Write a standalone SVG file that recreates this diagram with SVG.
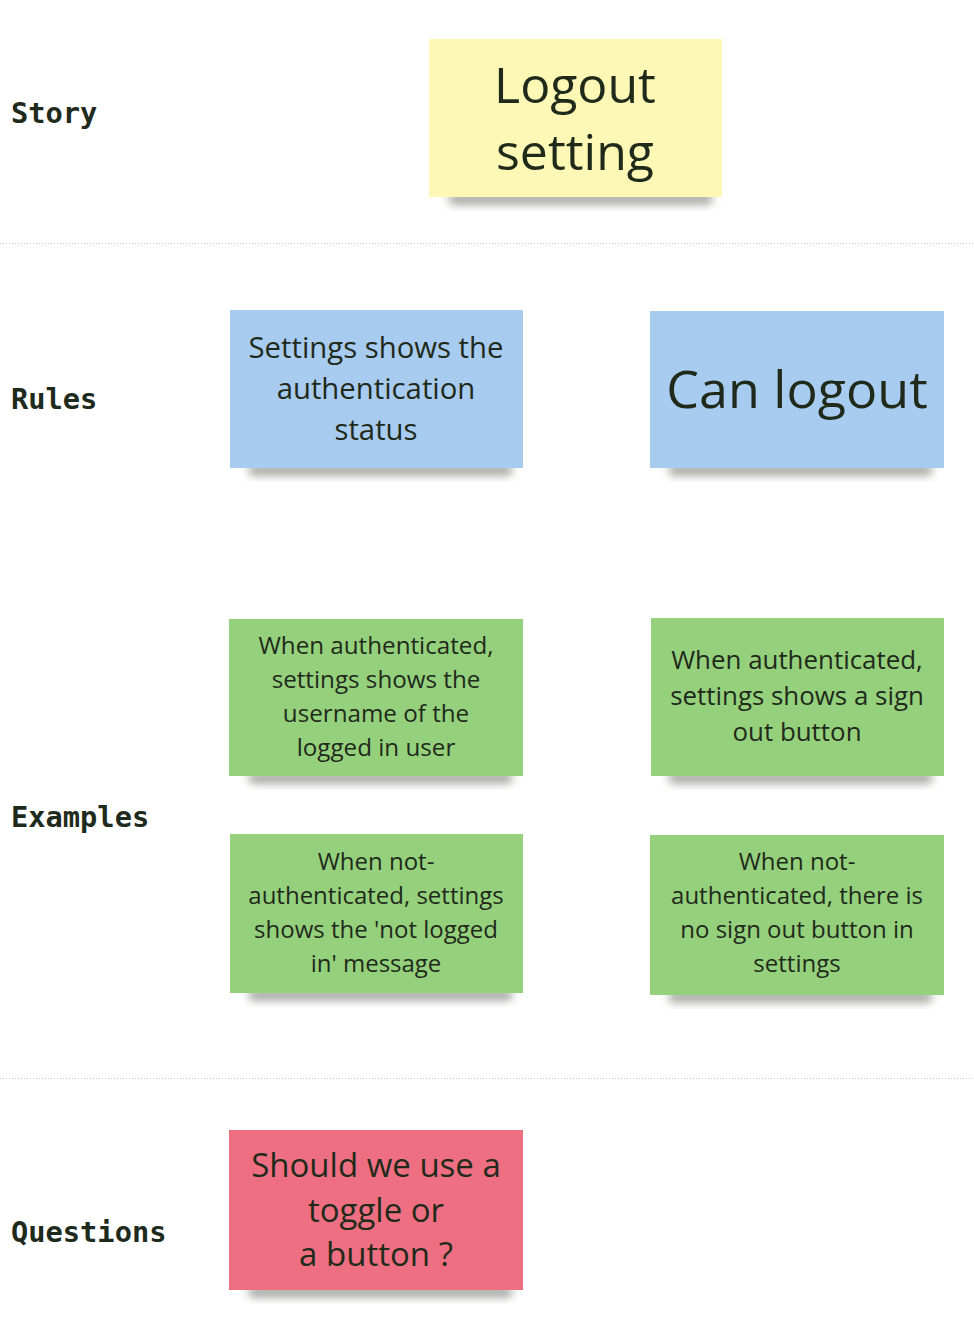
<svg xmlns="http://www.w3.org/2000/svg" width="974" height="1334" viewBox="0 0 974 1334">
<style>
.lbl{font-family:"DejaVu Sans Mono","Liberation Mono",monospace;font-weight:bold;font-size:28.7px;fill:#1e2a1c}
.t{font-family:"Open Sans","Noto Sans",sans-serif;fill:#1f2a1a;text-anchor:middle}
.div{stroke:#c8c8c8;stroke-width:1;stroke-dasharray:1 2}
.sh{fill:#5a5a50;opacity:0.5;filter:url(#blur)}
.yel{fill:#fdf8b5}
.blu{fill:#a8cbf0}
.grn{fill:#95d07d}
.red{fill:#ee6f82}
</style>
<defs>
<filter id="blur" x="-10%" y="-50%" width="120%" height="200%"><feGaussianBlur stdDeviation="4"/></filter>
</defs>
<rect width="974" height="1334" fill="#ffffff"/>
<g id="dividers">
<line class="div" x1="0" y1="243.5" x2="974" y2="243.5"/>
<line class="div" x1="0" y1="1078.5" x2="974" y2="1078.5"/>
</g>
<g id="labels">
<text class="lbl" x="11" y="123">Story</text>
<text class="lbl" x="11" y="409">Rules</text>
<text class="lbl" x="11" y="827">Examples</text>
<text class="lbl" x="11" y="1242">Questions</text>
</g>
<g id="story">
<rect class="sh" x="448" y="193" width="265" height="12" rx="6"/>
<rect class="yel" x="429" y="39" width="293" height="158"/>
<text class="t" font-size="50" x="575" y="103">Logout</text>
<text class="t" font-size="50" x="575" y="170">setting</text>
</g>
<g id="rule1">
<rect class="sh" x="248" y="464" width="265" height="12" rx="6"/>
<rect class="blu" x="230" y="310" width="293" height="158"/>
<text class="t" font-size="29.3" x="376" y="358">Settings shows the</text>
<text class="t" font-size="29.3" x="376" y="399">authentication</text>
<text class="t" font-size="29.3" x="376" y="440">status</text>
</g>
<g id="rule2">
<rect class="sh" x="668" y="464" width="265" height="12" rx="6"/>
<rect class="blu" x="650" y="311" width="294" height="157"/>
<text class="t" font-size="52" x="797" y="408">Can logout</text>
</g>
<g id="ex1">
<rect class="sh" x="248" y="772" width="265" height="12" rx="6"/>
<rect class="grn" x="229" y="619" width="294" height="157"/>
<text class="t" font-size="24.2" x="376" y="654">When authenticated,</text>
<text class="t" font-size="24.2" x="376" y="688">settings shows the</text>
<text class="t" font-size="24.2" x="376" y="722">username of the</text>
<text class="t" font-size="24.2" x="376" y="756">logged in user</text>
</g>
<g id="ex2">
<rect class="sh" x="668" y="772" width="265" height="12" rx="6"/>
<rect class="grn" x="651" y="618" width="293" height="158"/>
<text class="t" font-size="25.9" x="797" y="669">When authenticated,</text>
<text class="t" font-size="25.9" x="797" y="705">settings shows a sign</text>
<text class="t" font-size="25.9" x="797" y="741">out button</text>
</g>
<g id="ex3">
<rect class="sh" x="248" y="989" width="265" height="12" rx="6"/>
<rect class="grn" x="230" y="834" width="293" height="159"/>
<text class="t" font-size="24" x="376" y="870">When not-</text>
<text class="t" font-size="24" x="376" y="904">authenticated, settings</text>
<text class="t" font-size="24" x="376" y="938">shows the 'not logged</text>
<text class="t" font-size="24" x="376" y="972">in' message</text>
</g>
<g id="ex4">
<rect class="sh" x="668" y="991" width="265" height="12" rx="6"/>
<rect class="grn" x="650" y="835" width="294" height="160"/>
<text class="t" font-size="24" x="797" y="870">When not-</text>
<text class="t" font-size="24" x="797" y="904">authenticated, there is</text>
<text class="t" font-size="24" x="797" y="938">no sign out button in</text>
<text class="t" font-size="24" x="797" y="972">settings</text>
</g>
<g id="question">
<rect class="sh" x="248" y="1286" width="265" height="12" rx="6"/>
<rect class="red" x="229" y="1130" width="294" height="160"/>
<text class="t" font-size="33" x="376" y="1177">Should we use a</text>
<text class="t" font-size="33" x="376" y="1222">toggle or</text>
<text class="t" font-size="33" x="376" y="1266">a button ?</text>
</g>
<g id="connectors"/>
</svg>
